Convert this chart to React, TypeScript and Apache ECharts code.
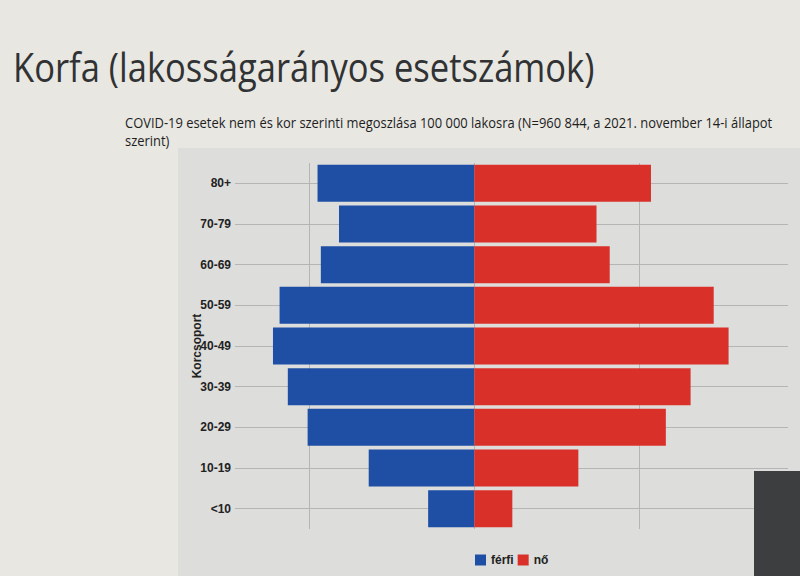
import React, { useEffect, useRef } from 'react';
import * as echarts from 'echarts';

const ageGroups = ['<10', '10-19', '20-29', '30-39', '40-49', '50-59', '60-69', '70-79', '80+'];
const male = [2800, 6400, 10100, 11300, 12200, 11800, 9300, 8200, 9500];
const female = [2300, 6300, 11600, 13100, 15400, 14500, 8200, 7400, 10700];
const gridTicks = [-10000, 0, 10000];
const legendNames = ['férfi', 'nő'];
const axisName = 'Korcsoport';
const titleText = 'Korfa (lakosságarányos esetszámok)';
const subtitleLines = [
  'COVID-19 esetek nem és kor szerinti megoszlása 100 000 lakosra (N=960 844, a 2021. november 14-i állapot',
  'szerint)',
];

function measure(text: string, font: string): number {
  const ctx = document.createElement('canvas').getContext('2d');
  if (!ctx) return 1;
  ctx.font = font;
  return ctx.measureText(text).width;
}

export default function App() {
  const ref = useRef<HTMLDivElement>(null);
  useEffect(() => {
    if (!ref.current) return;
    const chart = echarts.init(ref.current, undefined, { renderer: 'svg' });
    const titleFont = '"Open Sans"';
    const titleSize = 40;
    const titleScale = 582 / measure(titleText, `400 ${titleSize}px ${titleFont}`);
    const subSize = 15;
    const subScale = 647 / measure(subtitleLines[0], `400 ${subSize}px ${titleFont}`);

    chart.setOption({
      animation: false,
      backgroundColor: '#e8e7e2',
      graphic: [
        { type: 'rect', z: -10, silent: true, shape: { x: 178, y: 148, width: 622, height: 428 }, style: { fill: '#dddddb' } },
        {
          type: 'text', x: 13, y: 46, scaleX: titleScale,
          style: { text: titleText, fontSize: titleSize, fontFamily: 'Open Sans', fontWeight: 400, fill: '#303233', verticalAlign: 'top' },
        },
        {
          type: 'text', x: 125, y: 115, scaleX: subScale,
          style: { text: subtitleLines[0], fontSize: subSize, fontFamily: 'Open Sans', fill: '#1e1e1e', verticalAlign: 'top' },
        },
        {
          type: 'text', x: 125, y: 133, scaleX: subScale,
          style: { text: subtitleLines[1], fontSize: subSize, fontFamily: 'Open Sans', fill: '#1e1e1e', verticalAlign: 'top' },
        },
        { type: 'rect', z: 100, silent: true, shape: { x: 754, y: 471, width: 46, height: 105 }, style: { fill: '#3d3e40' } },
      ],
      legend: {
        data: legendNames,
        left: 470,
        top: 549,
        itemWidth: 11,
        itemHeight: 11,
        itemGap: 4,
        icon: 'rect',
        textStyle: { fontFamily: 'Liberation Sans', fontSize: 12, fontWeight: 'bold', color: '#222' },
      },
      grid: { left: 235, right: 12, top: 163, bottom: 47, containLabel: false },
      xAxis: {
        type: 'value', min: -14500, max: 19000, show: false, splitLine: { show: false },
      },
      yAxis: {
        type: 'category',
        data: ageGroups,
        axisLine: { show: false },
        axisTick: { show: false },
        splitLine: { show: false },
        axisLabel: { fontFamily: 'Liberation Sans', fontSize: 12, fontWeight: 'bold', color: '#222', margin: 4 },
        name: axisName,
        nameLocation: 'middle',
        nameRotate: 90,
        nameGap: 32,
        nameMoveOverlap: false,
        nameTextStyle: { fontFamily: 'Liberation Sans', fontSize: 12, fontWeight: 'bold', color: '#222' },
      },
      series: [
        {
          name: legendNames[0],
          type: 'bar',
          stack: 'pyr',
          barCategoryGap: '9%',
          data: male.map((v) => -v),
          itemStyle: { color: '#1f4ea5' },
          markLine: {
            z: 1,
            silent: true,
            symbol: 'none',
            label: { show: false },
            lineStyle: { color: '#b5b5b5', width: 1, type: 'solid' },
            data: [
              ...gridTicks.map((v) => ({ xAxis: v })),
              ...ageGroups.map((c) => ({ yAxis: c })),
            ],
          },
        },
        {
          name: legendNames[1],
          type: 'bar',
          stack: 'pyr',
          barCategoryGap: '9%',
          data: female,
          itemStyle: { color: '#d9302a' },
        },
      ],
    });
    return () => chart.dispose();
  }, []);
  return <div ref={ref} style={{ position: 'fixed', left: 0, top: 0, width: 800, height: 576 }} />;
}
